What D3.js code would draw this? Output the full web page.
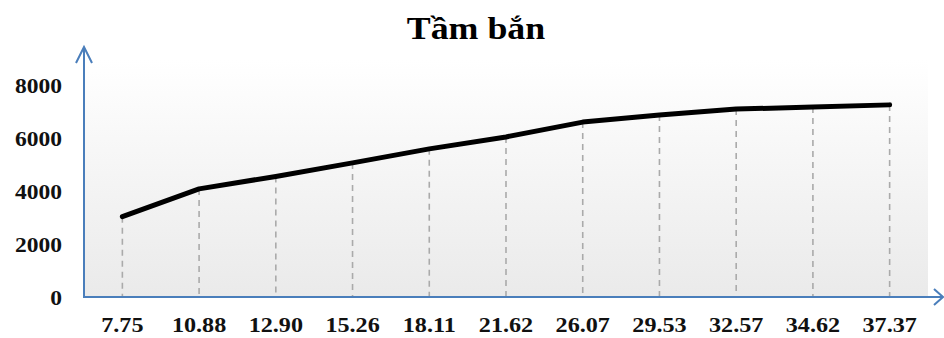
<!DOCTYPE html>
<html><head><meta charset="utf-8">
<script src="https://cdn.jsdelivr.net/npm/d3@7"></script>
<style>body{margin:0;background:#fff}svg{display:block}</style>
</head><body>
<svg id="c" width="944" height="338"></svg>
<script>
const title = "Tầm bắn";
const categories = ["7.75","10.88","12.90","15.26","18.11","21.62","26.07","29.53","32.57","34.62","37.37"];
const values = [3030, 4080, 4550, 5060, 5590, 6040, 6600, 6870, 7090, 7170, 7250];
const yTicks = [0, 2000, 4000, 6000, 8000];

const svg = d3.select("#c");
const mLeft = 84, mRight = 928, mBottom = 297, mTop = 85;
const x = d3.scaleBand().domain(categories).range([mLeft, mRight]);
const y = d3.scaleLinear().domain([0, 8000]).range([mBottom, mTop]);
const font = "'Liberation Serif','Times New Roman',serif";
const blue = "#4a7ebb";

function stretch(sel, k) {
  sel.each(function() {
    const w = this.getComputedTextLength();
    d3.select(this).attr("textLength", w * k).attr("lengthAdjust", "spacingAndGlyphs");
  });
}

const defs = svg.append("defs");
const g = defs.append("linearGradient").attr("id","bg").attr("x1",0).attr("y1",0).attr("x2",0).attr("y2",1);
g.append("stop").attr("offset","0%").attr("stop-color","#ffffff");
g.append("stop").attr("offset","100%").attr("stop-color","#eaeaea");
svg.append("rect").attr("x", mLeft).attr("y", 60).attr("width", mRight-mLeft).attr("height", mBottom-60).attr("fill","url(#bg)");

const t = svg.append("text").attr("x", 476).attr("y", 39).attr("text-anchor","middle")
  .attr("font-family", font).attr("font-weight","bold").attr("font-size", 32).attr("fill","#000").text(title);
stretch(t, 1.12);

// drop lines
svg.append("g").selectAll("line").data(categories).join("line")
  .attr("x1", (d)=>x(d)+x.bandwidth()/2).attr("x2", (d)=>x(d)+x.bandwidth()/2)
  .attr("y1", (d,i)=>y(values[i])).attr("y2", mBottom)
  .attr("stroke","#aaaaaa").attr("stroke-width",1.6).attr("stroke-dasharray","6,5");

// y axis
const yAxis = d3.axisLeft(y).tickValues(yTicks).tickSize(0).tickPadding(22).tickFormat(d3.format("d"));
const ya = svg.append("g").attr("transform",`translate(${mLeft},0)`).call(yAxis);
ya.select(".domain").remove();
ya.selectAll("text").attr("font-family", font).attr("font-weight","bold").attr("font-size", 21).attr("fill","#111").attr("dy","0.36em");
stretch(ya.selectAll("text"), 1.12);

// x axis
const xAxis = d3.axisBottom(x).tickSize(0);
const xa = svg.append("g").attr("transform",`translate(0,${mBottom})`).call(xAxis);
xa.select(".domain").remove();
xa.selectAll("text").attr("font-family", font).attr("font-weight","bold").attr("font-size", 21).attr("fill","#111").attr("y", 35).attr("dy", "0");
stretch(xa.selectAll("text"), 1.15);

// axis lines with arrows
svg.append("line").attr("x1", mLeft).attr("y1", mBottom+1).attr("x2", mLeft).attr("y2", 47).attr("stroke", blue).attr("stroke-width", 2);
svg.append("path").attr("d", `M${mLeft-8},${63} L${mLeft},${47} L${mLeft+8},${63}`).attr("fill","none").attr("stroke",blue).attr("stroke-width",2);
svg.append("line").attr("x1", mLeft-1).attr("y1", mBottom).attr("x2", 942).attr("y2", mBottom).attr("stroke", blue).attr("stroke-width", 2);
svg.append("path").attr("d", `M${934},${mBottom-8} L${943},${mBottom} L${934},${mBottom+8}`).attr("fill","none").attr("stroke",blue).attr("stroke-width",2);

// line
const line = d3.line().x((d,i)=>x(categories[i])+x.bandwidth()/2).y(d=>y(d));
svg.append("path").datum(values).attr("d", line).attr("fill","none").attr("stroke","#000").attr("stroke-width",5).attr("stroke-linecap","round").attr("stroke-linejoin","round");
</script>
</body></html>
